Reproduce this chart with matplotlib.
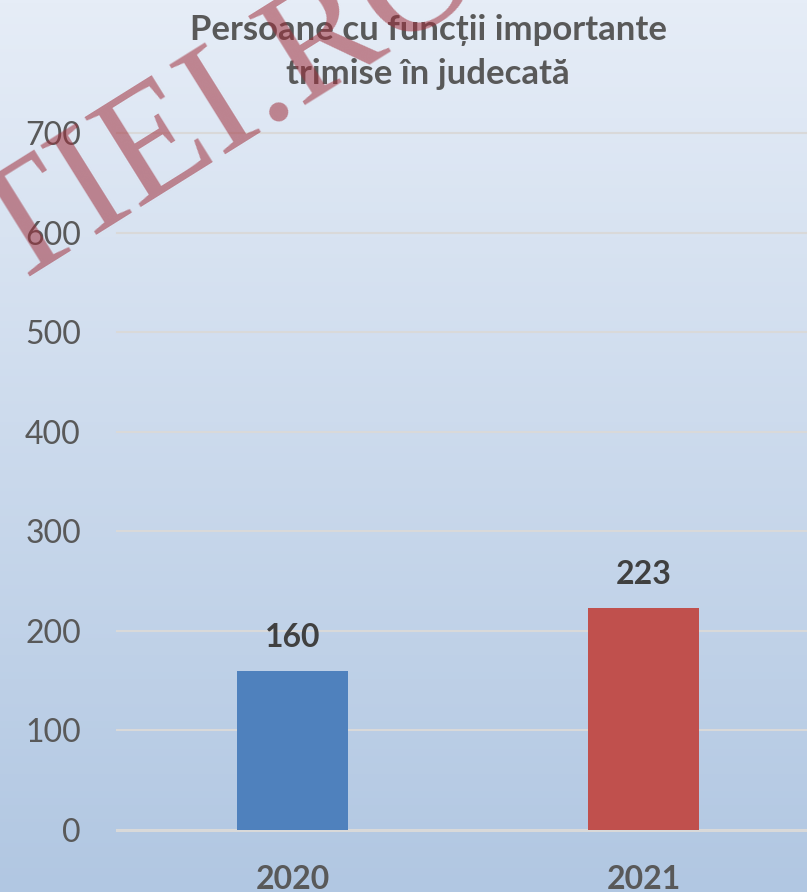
import numpy as np
import matplotlib
matplotlib.use("Agg")
import matplotlib.pyplot as plt
from matplotlib.colors import LinearSegmentedColormap

plt.rcParams['font.family'] = ['Lato', 'DejaVu Sans']

# data
years = ["2020", "2021"]
values = [160, 223]
bar_colors = ["#4f81bd", "#c0504d"]
yticks = [0, 100, 200, 300, 400, 500, 600, 700]
title = "Persoane cu funcții importante\ntrimise în judecată"
watermark = "TIEI.RO"

W, H = 807, 892
fig = plt.figure(figsize=(W / 100, H / 100), dpi=100)

# gradient background
bg = fig.add_axes([0, 0, 1, 1], zorder=0)
cmap = LinearSegmentedColormap.from_list("bg", ["#e6edf7", "#b1c7e2"])
grad = np.linspace(0, 1, 256).reshape(-1, 1)
bg.imshow(grad, aspect="auto", cmap=cmap, extent=[0, 1, 0, 1], origin="upper")
bg.axis("off")

ax = fig.add_axes([117 / W, 62 / H, 702 / W, 697 / H], zorder=1)
ax.patch.set_alpha(0)
x = np.arange(len(years))
ax.bar(x, values, width=0.316, color=bar_colors, zorder=3)
ax.set_xlim(-0.5, 1.5)
ax.set_ylim(0, 700)

for t in yticks:
    ax.axhline(t, color="#d9d9d9", lw=2.2 if t == 0 else 1.5, zorder=1, clip_on=False)

ax.set_yticks(yticks)
ax.set_xticks(x)
ax.set_xticklabels(years, fontsize=23, fontweight="bold", color="#595959")
ax.tick_params(axis="y", length=0, pad=26, labelsize=23, labelcolor="#595959")
ax.tick_params(axis="x", length=0, pad=25)
for s in ax.spines.values():
    s.set_visible(False)

for xi, v in zip(x, values):
    ax.annotate(str(v), (xi, v), xytext=(0, 24), textcoords="offset points",
                ha="center", va="center", fontsize=23, fontweight="bold",
                color="#404040", zorder=4)

fig.text(428 / W, 1 - 14 / H, title, ha="center", va="top", fontsize=25,
         fontweight="bold", color="#595959", linespacing=1.45, zorder=2)

# watermark
fig.text(8 / W, 1 - 288 / H, watermark, rotation=32, rotation_mode="anchor",
         ha="left", va="baseline", fontsize=116, family="Liberation Serif",
         color="#a0303c", alpha=0.55, zorder=5)

fig.savefig("out.png", dpi=100)
